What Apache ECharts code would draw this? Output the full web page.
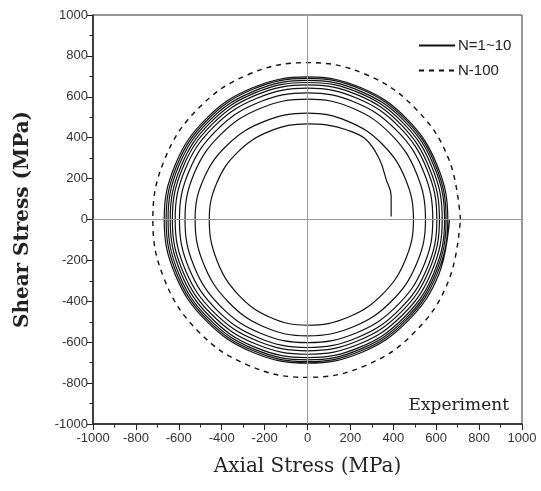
<!DOCTYPE html>
<html>
<head>
<meta charset="utf-8">
<script src="https://cdn.jsdelivr.net/npm/echarts@6/dist/echarts.min.js"></script>
<style>html,body{margin:0;padding:0;background:#fff}#c{width:541px;height:491px}</style>
</head>
<body>
<div id="c"></div>
<script>
// Axis ticks
const xTicks = [-1000,-800,-600,-400,-200,0,200,400,600,800,1000];
const yTicks = [-1000,-800,-600,-400,-200,0,200,400,600,800,1000];

// Spiral N=1~10, one loop per array (axial stress, shear stress) in MPa
const loop1 = [[390,15],[390,115],[367,195],[336,293],[274,390],[181,439],[88,463],[0,468],[-175,432],[-324,331],[-423,179],[-458,0],[-423,-198],[-324,-366],[-175,-478],[0,-517],[189,-478],[349,-366],[456,-198],[494,0]];
const loop2 = [[456,199],[349,368],[189,480],[0,520],[-201,480],[-370,368],[-484,199],[-524,0],[-484,-218],[-370,-402],[-201,-526],[0,-569],[211,-526],[389,-402],[508,-218],[550,0]];
const loop3 = [[508,226],[389,416],[211,544],[0,589],[-219,544],[-404,416],[-528,226],[-571,0],[-528,-231],[-404,-426],[-219,-556],[0,-602],[224,-556],[413,-426],[540,-231],[584,0]];
const loop4 = [[540,237],[413,438],[224,572],[0,619],[-229,572],[-422,438],[-552,237],[-597,0],[-552,-240],[-422,-443],[-229,-578],[0,-626],[231,-578],[426,-443],[557,-240],[603,0]];
const loop5 = [[557,246],[426,454],[231,593],[0,642],[-236,593],[-436,454],[-570,246],[-617,0],[-570,-246],[-436,-454],[-236,-593],[0,-642],[236,-593],[435,-454],[568,-246],[615,0]];
const loop6 = [[568,252],[435,465],[236,608],[0,658],[-241,608],[-445,465],[-582,252],[-630,0],[-582,-252],[-445,-466],[-241,-609],[0,-659],[241,-609],[444,-466],[580,-252],[628,0]];
const loop7 = [[580,257],[444,474],[241,619],[0,670],[-245,619],[-453,474],[-591,257],[-640,0],[-591,-259],[-453,-477],[-245,-624],[0,-675],[245,-624],[452,-477],[590,-259],[639,0]];
const loop8 = [[590,260],[452,481],[245,628],[0,680],[-249,628],[-460,481],[-601,260],[-650,0],[-601,-263],[-460,-485],[-249,-634],[0,-686],[247,-634],[457,-485],[597,-263],[646,0]];
const loop9 = [[597,264],[457,488],[247,638],[0,690],[-252,638],[-466,488],[-609,264],[-659,0],[-609,-266],[-466,-491],[-252,-642],[0,-695],[250,-642],[462,-491],[604,-266],[654,0]];
const loop10 = [[604,267],[462,493],[250,644],[0,697],[-256,644],[-472,493],[-617,267],[-668,0],[-617,-269],[-472,-496],[-256,-649],[0,-702],[254,-649],[468,-496],[612,-269],[662,0]];

// N-100 loop
const n100 = [[713,0],[659,294],[504,542],[273,709],[0,767],[-276,709],[-510,542],[-666,294],[-721,0],[-666,-296],[-510,-546],[-276,-713],[0,-772],[273,-713],[504,-546],[659,-296],[713,0]];

const spiral = [].concat(loop1, loop2, loop3, loop4, loop5, loop6, loop7, loop8, loop9, loop10);

const chart = echarts.init(document.getElementById('c'), null, {renderer: 'canvas'});
const axisFont = {fontFamily: 'Liberation Sans, Arial, sans-serif', fontSize: 13, color: '#333', formatter: v => String(v)};
chart.setOption({
  animation: false,
  backgroundColor: '#fff',
  title: {
    text: 'Experiment', right: 27, top: 392,
    textStyle: {fontFamily: 'DejaVu Serif, serif', fontSize: 17, fontWeight: 'normal', color: '#222'}
  },
  legend: {
    orient: 'vertical', left: 413, top: 33, itemWidth: 36, itemHeight: 14, itemGap: 10,
    data: ['N=1~10', 'N-100'],
    itemStyle: {opacity: 0},
    textStyle: {fontFamily: 'Liberation Sans, Arial, sans-serif', fontSize: 15, color: '#222', padding: [0,0,0,-2]}
  },
  grid: {left: 93, right: 19, top: 15, bottom: 67, show: true, borderColor: '#333', borderWidth: 1},
  xAxis: {
    type: 'value', min: xTicks[0], max: xTicks[xTicks.length-1], interval: 200,
    name: 'Axial Stress (MPa)', nameLocation: 'middle', nameGap: 33,
    nameTextStyle: {fontFamily: 'DejaVu Serif, serif', fontSize: 20, color: '#222'},
    axisLine: {onZero: false, lineStyle: {color: '#222', width: 1.5}},
    axisTick: {inside: false, length: 6, lineStyle: {color: '#222'}},
    minorTick: {show: true, splitNumber: 2, length: 3.5, lineStyle: {color: '#222'}},
    splitLine: {show: false},
    axisLabel: Object.assign({margin: 8}, axisFont)
  },
  yAxis: {
    type: 'value', min: yTicks[0], max: yTicks[yTicks.length-1], interval: 200,
    name: 'Shear Stress (MPa)', nameLocation: 'middle', nameGap: 60,
    nameTextStyle: {fontFamily: 'DejaVu Serif, serif', fontSize: 20, fontWeight: 'bold', color: '#222'},
    axisLine: {onZero: false, lineStyle: {color: '#222', width: 1.5}},
    axisTick: {inside: false, length: 6, lineStyle: {color: '#222'}},
    minorTick: {show: true, splitNumber: 2, length: 3.5, lineStyle: {color: '#222'}},
    splitLine: {show: false},
    axisLabel: Object.assign({margin: 5}, axisFont)
  },
  series: [
    {
      name: 'N=1~10', type: 'line', data: spiral, symbol: 'none', smooth: 0.4,
      lineStyle: {color: '#111', width: 1.2}, itemStyle: {color: '#111'}
    },
    {
      name: 'N-100', type: 'line', data: n100, symbol: 'none', smooth: 0.4,
      lineStyle: {color: '#111', width: 1.4, type: [5, 5]}, itemStyle: {color: '#111'},
      markLine: {
        silent: true, symbol: 'none', label: {show: false},
        lineStyle: {color: '#999', width: 1, type: 'solid'},
        data: [{xAxis: 0}, {yAxis: 0}]
      }
    }
  ]
});
</script>
</body>
</html>
